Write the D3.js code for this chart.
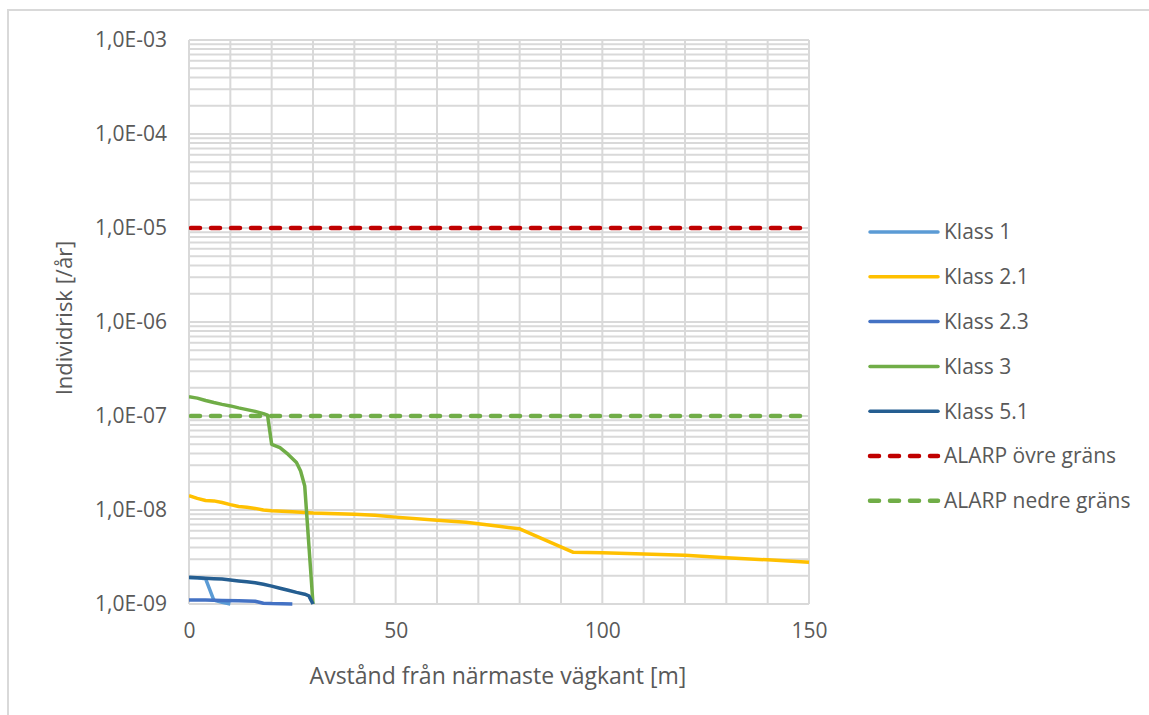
<!DOCTYPE html>
<html>
<head>
<meta charset="utf-8">
<script src="https://cdn.jsdelivr.net/npm/d3@7/dist/d3.min.js"></script>
<style>
  html, body { margin: 0; padding: 0; background: #fff; }
  svg { display: block; }
  text { font-family: "Open Sans", "Noto Sans", sans-serif; fill: #595959; }
</style>
</head>
<body>
<svg id="chart" width="1149" height="715"></svg>
<script>
// Individual risk vs. distance from the road edge, per dangerous goods class
const xTicks = [0, 50, 100, 150];
const yTickLabels = ["1,0E-09", "1,0E-08", "1,0E-07", "1,0E-06", "1,0E-05", "1,0E-04", "1,0E-03"];

const klass1X = [0, 2, 4, 6, 8, 10];
const klass1Y = [1.9e-9, 1.9e-9, 1.86e-9, 1.1e-9, 1.04e-9, 1.0e-9];

const klass21X = [0, 2, 4, 6, 8, 10, 12, 14, 16, 18, 20, 25, 30, 40, 45, 50, 60, 67, 75, 80, 93, 100, 110, 120, 130, 140, 150];
const klass21Y = [1.42e-8, 1.33e-8, 1.26e-8, 1.25e-8, 1.2e-8, 1.14e-8, 1.09e-8, 1.07e-8, 1.04e-8, 1.0e-8, 9.8e-9, 9.6e-9, 9.3e-9, 9.0e-9, 8.8e-9, 8.4e-9, 7.8e-9, 7.4e-9, 6.7e-9, 6.3e-9, 3.55e-9, 3.5e-9, 3.4e-9, 3.3e-9, 3.1e-9, 2.95e-9, 2.78e-9];

const klass23X = [0, 4, 8, 12, 16, 18, 20, 25];
const klass23Y = [1.1e-9, 1.1e-9, 1.09e-9, 1.08e-9, 1.07e-9, 1.02e-9, 1.01e-9, 1.0e-9];

const klass3X = [0, 2, 4, 6, 8, 10, 12, 14, 16, 18, 19, 20, 22, 24, 26, 27, 28, 30];
const klass3Y = [1.6e-7, 1.55e-7, 1.46e-7, 1.39e-7, 1.33e-7, 1.28e-7, 1.22e-7, 1.17e-7, 1.12e-7, 1.06e-7, 1.02e-7, 5.0e-8, 4.6e-8, 3.9e-8, 3.2e-8, 2.6e-8, 1.8e-8, 1.0e-9];

const klass51X = [0, 2, 4, 6, 8, 10, 12, 14, 16, 18, 20, 22, 24, 26, 28, 29, 30];
const klass51Y = [1.92e-9, 1.9e-9, 1.88e-9, 1.86e-9, 1.84e-9, 1.8e-9, 1.76e-9, 1.72e-9, 1.68e-9, 1.62e-9, 1.55e-9, 1.47e-9, 1.4e-9, 1.33e-9, 1.27e-9, 1.22e-9, 1.0e-9];

const alarpX = [0, 150];
const alarpUpperY = [1e-5, 1e-5];
const alarpLowerY = [1e-7, 1e-7];

const seriesNames = ["Klass 1", "Klass 2.1", "Klass 2.3", "Klass 3", "Klass 5.1", "ALARP övre gräns", "ALARP nedre gräns"];
const seriesColors = ["#5B9BD5", "#FFC000", "#4472C4", "#70AD47", "#255E91", "#C00000", "#70AD47"];
const seriesDashed = [false, false, false, false, false, true, true];

const svg = d3.select("#chart");

// outer chart frame
svg.append("rect")
  .attr("x", 8).attr("y", 10).attr("width", 1160).attr("height", 720)
  .attr("fill", "none").attr("stroke", "#d9d9d9").attr("stroke-width", 2);

const plot = { left: 189, right: 809, top: 40, bottom: 604 };

const x = d3.scaleLinear().domain([0, 150]).range([plot.left, plot.right]);
const y = d3.scaleLog().domain([1e-9, 1e-3]).range([plot.bottom, plot.top]);

// gridlines: minor log steps plus every 10 m vertically
const yGrid = [];
for (let e = -9; e < -3; e++) {
  for (let m = 1; m <= 9; m++) yGrid.push(m * Math.pow(10, e));
}
yGrid.push(1e-3);
const xGrid = d3.range(0, 151, 10);

const grid = svg.append("g");
grid.selectAll("line.h").data(yGrid).join("line")
  .attr("x1", plot.left).attr("x2", plot.right)
  .attr("y1", d => y(d)).attr("y2", d => y(d))
  .attr("stroke", "#d9d9d9").attr("stroke-width", 2);
grid.selectAll("line.v").data(xGrid).join("line")
  .attr("x1", d => x(d)).attr("x2", d => x(d))
  .attr("y1", plot.top).attr("y2", plot.bottom)
  .attr("stroke", "#d9d9d9").attr("stroke-width", 2);

// axes
const yAxis = d3.axisLeft(y)
  .tickValues([1e-9, 1e-8, 1e-7, 1e-6, 1e-5, 1e-4, 1e-3])
  .tickFormat((d, i) => yTickLabels[i])
  .tickSize(0).tickPadding(22);
const gy = svg.append("g").attr("transform", `translate(${plot.left},0)`).call(yAxis);
gy.select(".domain").remove();
gy.selectAll("text").style("font-size", "21px").attr("fill", "#595959")
  .style("font-family", "'Open Sans', sans-serif");

const xAxis = d3.axisBottom(x).tickValues(xTicks).tickFormat(d3.format("d"))
  .tickSize(0).tickPadding(19);
const gx = svg.append("g").attr("transform", `translate(0,${plot.bottom})`).call(xAxis);
gx.select(".domain").remove();
gx.selectAll("text").style("font-size", "21px").attr("fill", "#595959")
  .style("font-family", "'Open Sans', sans-serif");

// axis titles
svg.append("text")
  .attr("x", (plot.left + plot.right) / 2 - 1).attr("y", 684)
  .attr("text-anchor", "middle").style("font-size", "23px")
  .text("Avstånd från närmaste vägkant [m]");
svg.append("text")
  .attr("transform", "translate(72,318) rotate(-90)")
  .attr("text-anchor", "middle").style("font-size", "22px")
  .text("Individrisk [/år]");

// series
svg.append("clipPath").attr("id", "plotClip").append("rect")
  .attr("x", plot.left).attr("y", plot.top - 4)
  .attr("width", plot.right - plot.left + 4).attr("height", plot.bottom - plot.top + 6);

const seriesData = [
  [klass1X, klass1Y], [klass21X, klass21Y], [klass23X, klass23Y], [klass3X, klass3Y],
  [klass51X, klass51Y], [alarpX, alarpUpperY], [alarpX, alarpLowerY]
].map(([xs, ys]) => xs.map((v, i) => ({ x: v, y: ys[i] })));

const line = d3.line().x(d => x(d.x)).y(d => y(d.y));
const drawOrder = [5, 6, 0, 1, 2, 3, 4];
const gLines = svg.append("g").attr("clip-path", "url(#plotClip)");
drawOrder.forEach(i => {
  gLines.append("path")
    .attr("d", line(seriesData[i]))
    .attr("fill", "none")
    .attr("stroke", seriesColors[i])
    .attr("stroke-width", seriesDashed[i] ? 4.5 : 3.5)
    .attr("stroke-linejoin", "round")
    .attr("stroke-linecap", seriesDashed[i] ? "round" : "butt")
    .attr("stroke-dasharray", seriesDashed[i] ? "9,11" : null)
    .attr("transform", seriesDashed[i] ? "translate(2,0)" : null);
});

// legend
const legend = svg.append("g");
seriesNames.forEach((name, i) => {
  const ly = 232 + i * 44.8;
  legend.append("line")
    .attr("x1", 870).attr("x2", 938).attr("y1", ly).attr("y2", ly)
    .attr("stroke", seriesColors[i])
    .attr("stroke-width", seriesDashed[i] ? 4.5 : 3.5)
    .attr("stroke-linecap", "round")
    .attr("stroke-dasharray", seriesDashed[i] ? "9,11" : null);
  legend.append("text")
    .attr("x", 944).attr("y", ly).attr("dy", "0.35em")
    .style("font-size", "21px")
    .text(name);
});
</script>
</body>
</html>
